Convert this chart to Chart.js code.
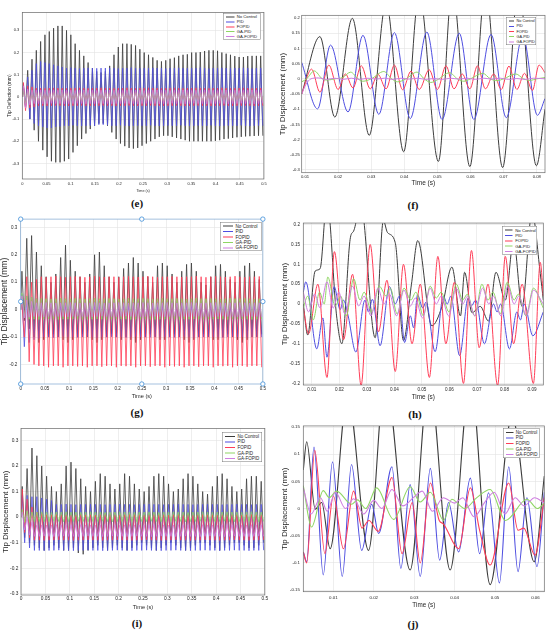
<!DOCTYPE html>
<html>
<head>
<meta charset="utf-8">
<script src="https://cdn.jsdelivr.net/npm/chart.js@4.4.1/dist/chart.umd.min.js"></script>
<style>
html, body { margin: 0; padding: 0; background: #fff; }
body { width: 550px; height: 632px; position: relative; overflow: hidden; font-family: "Liberation Sans", Arial, sans-serif; }
canvas { position: absolute; }
.tag { position: absolute; font-family: "Liberation Serif", "Times New Roman", serif; font-weight: bold; font-size: 11px; color: #111; transform: translate(-50%, -50%); white-space: nowrap; }
.leg { position: absolute; background: #fff; border: 1px solid #777; box-sizing: border-box; transform-origin: 0 0; transform: scale(0.5); }
.leg span { position: absolute; white-space: nowrap; color: #222; }
</style>
</head>
<body>
<script>
const seriesNames = ['No Control', 'PID', 'FOPID', 'GA-PID', 'GA-FOPID'];
const seriesColors = ['#3d3d3d', '#4f4fe0', '#ff3d57', '#8fd664', '#cf7fe0'];

// tick values
const timeTicksFull = [0, 0.05, 0.1, 0.15, 0.2, 0.25, 0.3, 0.35, 0.4, 0.45, 0.5];
const fTimeTicks = [0.01, 0.02, 0.03, 0.04, 0.05, 0.06, 0.07, 0.08];
const hTimeTicks = [0.01, 0.02, 0.03, 0.04, 0.05, 0.06, 0.07, 0.08, 0.09];
const jTimeTicks = [0.01, 0.02, 0.03, 0.04, 0.05, 0.06];
const eYTicks = [-0.3, -0.2, -0.1, 0, 0.1, 0.2, 0.3];
const fYTicks = [-0.3, -0.25, -0.2, -0.15, -0.1, -0.05, 0, 0.05, 0.1, 0.15, 0.2];
const gYTicks = [-0.2, -0.1, 0, 0.1, 0.2, 0.3];
const hYTicks = [-0.2, -0.15, -0.1, -0.05, 0, 0.05, 0.1, 0.15, 0.2];
const iYTicks = [-0.3, -0.2, -0.1, 0, 0.1, 0.2, 0.3];
const jYTicks = [-0.15, -0.1, -0.05, 0, 0.05, 0.1, 0.15];

// (e) per-cycle peaks / troughs, 0 - 0.5 s
const eBlackHi = [0.05,0.12,0.17,0.21,0.25,0.28,0.295,0.31,0.32,0.32, 0.3,0.28,0.24,0.21,0.185,0.155,0.13,0.115,0.11,0.115, 0.14,0.19,0.225,0.24,0.24,0.237,0.232,0.215,0.2,0.19, 0.178,0.165,0.16,0.165,0.172,0.177,0.185,0.19,0.192,0.2, 0.2,0.202,0.207,0.21,0.21,0.208,0.2,0.195,0.19,0.184, 0.18,0.18,0.184,0.185,0.185,0.185];
const eBlackLo = [-0.05,-0.1,-0.15,-0.2,-0.24,-0.27,-0.29,-0.295,-0.295,-0.29, -0.28,-0.25,-0.22,-0.19,-0.165,-0.145,-0.13,-0.12,-0.12,-0.13, -0.16,-0.19,-0.21,-0.222,-0.23,-0.233,-0.23,-0.22,-0.21,-0.2, -0.19,-0.18,-0.175,-0.175,-0.18,-0.185,-0.19,-0.195,-0.2,-0.2, -0.2,-0.2,-0.2,-0.2,-0.198,-0.195,-0.19,-0.188,-0.185,-0.182, -0.18,-0.178,-0.177,-0.176,-0.175,-0.175];
const eBlueHi = [0.06,0.09,0.12,0.15,0.16,0.155,0.15,0.145,0.14,0.135, 0.13,0.132,0.13,0.128,0.13,0.131,0.13,0.129,0.13,0.13, 0.131,0.13,0.128,0.13,0.13,0.132,0.13,0.129,0.13,0.13, 0.131,0.13,0.13,0.128,0.13,0.13,0.131,0.13,0.129,0.13, 0.13,0.132,0.13,0.128,0.13,0.13,0.131,0.13,0.129,0.13, 0.13,0.131,0.13,0.128,0.13,0.13];
const eBlueLo = [-0.05,-0.1,-0.12,-0.13,-0.135,-0.14,-0.14,-0.135,-0.133,-0.13, -0.13,-0.128,-0.13,-0.131,-0.13,-0.129,-0.13,-0.125,-0.125,-0.127, -0.13,-0.13,-0.128,-0.13,-0.131,-0.13,-0.129,-0.13,-0.13,-0.128, -0.13,-0.131,-0.13,-0.129,-0.13,-0.13,-0.128,-0.13,-0.131,-0.13, -0.129,-0.13,-0.13,-0.128,-0.13,-0.131,-0.13,-0.129,-0.13,-0.13, -0.128,-0.13,-0.131,-0.13,-0.129,-0.13];
const eRedHi = [0.065,0.05,0.045,0.04,0.04,0.039,0.04,0.041,0.04,0.04, 0.039,0.04,0.04,0.041,0.04,0.039,0.04,0.04,0.041,0.04, 0.04,0.039,0.04,0.04,0.041,0.04,0.039,0.04,0.04,0.041, 0.04,0.04,0.039,0.04,0.04,0.041,0.04,0.039,0.04,0.04, 0.041,0.04,0.04,0.039,0.04,0.04,0.041,0.04,0.039,0.04, 0.04,0.041,0.04,0.039,0.04,0.04];
const eRedLo = [-0.062,-0.05,-0.045,-0.04,-0.04,-0.041,-0.04,-0.039,-0.04,-0.04, -0.041,-0.04,-0.04,-0.039,-0.04,-0.041,-0.04,-0.04,-0.039,-0.04, -0.04,-0.041,-0.04,-0.04,-0.039,-0.04,-0.041,-0.04,-0.04,-0.039, -0.04,-0.04,-0.041,-0.04,-0.04,-0.039,-0.04,-0.041,-0.04,-0.04, -0.039,-0.04,-0.04,-0.041,-0.04,-0.04,-0.039,-0.04,-0.041,-0.04, -0.04,-0.039,-0.04,-0.041,-0.04,-0.04];
const eGreenHi = [0.03,0.025,0.02,0.02,0.021,0.02,0.019,0.02,0.02,0.021, 0.02,0.02,0.019,0.02,0.021,0.02,0.02,0.019,0.02,0.02, 0.021,0.02,0.02,0.019,0.02,0.02,0.021,0.02,0.019,0.02, 0.02,0.021,0.02,0.02,0.019,0.02,0.02,0.021,0.02,0.019, 0.02,0.02,0.021,0.02,0.02,0.019,0.02,0.021,0.02,0.02, 0.019,0.02,0.02,0.021,0.02,0.02];
const eGreenLo = [-0.03,-0.025,-0.02,-0.02,-0.021,-0.02,-0.019,-0.02,-0.02,-0.021, -0.02,-0.02,-0.019,-0.02,-0.021,-0.02,-0.02,-0.019,-0.02,-0.02, -0.021,-0.02,-0.02,-0.019,-0.02,-0.02,-0.021,-0.02,-0.019,-0.02, -0.02,-0.021,-0.02,-0.02,-0.019,-0.02,-0.02,-0.021,-0.02,-0.019, -0.02,-0.02,-0.021,-0.02,-0.02,-0.019,-0.02,-0.021,-0.02,-0.02, -0.019,-0.02,-0.02,-0.021,-0.02,-0.02];
const eMagHi = [0.05,0.035,0.03,0.03,0.031,0.03,0.029,0.03,0.03,0.031, 0.03,0.03,0.029,0.03,0.031,0.03,0.03,0.029,0.03,0.03, 0.031,0.03,0.03,0.029,0.03,0.03,0.031,0.03,0.029,0.03, 0.03,0.031,0.03,0.03,0.029,0.03,0.03,0.031,0.03,0.029, 0.03,0.03,0.031,0.03,0.03,0.029,0.03,0.031,0.03,0.03, 0.029,0.03,0.03,0.031,0.03,0.03];
const eMagLo = [-0.05,-0.035,-0.03,-0.03,-0.031,-0.03,-0.029,-0.03,-0.03,-0.031, -0.03,-0.03,-0.029,-0.03,-0.031,-0.03,-0.03,-0.029,-0.03,-0.03, -0.031,-0.03,-0.03,-0.029,-0.03,-0.03,-0.031,-0.03,-0.029,-0.03, -0.03,-0.031,-0.03,-0.03,-0.029,-0.03,-0.03,-0.031,-0.03,-0.029, -0.03,-0.03,-0.031,-0.03,-0.03,-0.029,-0.03,-0.031,-0.03,-0.03, -0.029,-0.03,-0.03,-0.031,-0.03,-0.03];

// (g) per-cycle peaks / troughs
const gBlackHi = [0.14,0.26,0.27,0.21,0.16,0.12,0.1,0.13,0.19,0.235, 0.18,0.14,0.12,0.1,0.13,0.2,0.21,0.16,0.12,0.1, 0.12,0.15,0.17,0.19,0.17,0.14,0.12,0.1,0.16,0.17, 0.16,0.13,0.1,0.14,0.165,0.17,0.14,0.1,0.09,0.12, 0.16,0.165,0.14,0.11,0.1,0.14,0.16,0.17,0.14,0.11];
const gBlackLo = [-0.04,-0.07,-0.1,-0.12,-0.11,-0.1,-0.09,-0.1,-0.11,-0.12, -0.11,-0.1,-0.09,-0.1,-0.11,-0.12,-0.11,-0.1,-0.09,-0.1, -0.11,-0.1,-0.11,-0.12,-0.11,-0.1,-0.09,-0.1,-0.11,-0.11, -0.1,-0.09,-0.1,-0.11,-0.12,-0.11,-0.1,-0.09,-0.1,-0.11, -0.11,-0.1,-0.09,-0.1,-0.11,-0.12,-0.11,-0.1,-0.1,-0.09];
const gBlueHi = [0.055,0.05,0.045,0.04,0.035,0.03,0.031,0.03,0.029,0.03, 0.03,0.031,0.03,0.028,0.03,0.03,0.031,0.03,0.029,0.03, 0.03,0.032,0.03,0.028,0.03,0.03,0.031,0.03,0.029,0.03, 0.03,0.031,0.03,0.028,0.03,0.03,0.031,0.03,0.029,0.03, 0.03,0.032,0.03,0.028,0.03,0.03,0.031,0.03,0.029,0.03];
const gBlueLo = [-0.135,-0.12,-0.11,-0.105,-0.1,-0.1,-0.102,-0.1,-0.098,-0.1, -0.1,-0.101,-0.1,-0.098,-0.1,-0.102,-0.1,-0.1,-0.099,-0.1, -0.1,-0.102,-0.1,-0.098,-0.1,-0.1,-0.101,-0.1,-0.099,-0.1, -0.1,-0.101,-0.1,-0.098,-0.1,-0.102,-0.1,-0.1,-0.099,-0.1, -0.1,-0.102,-0.1,-0.098,-0.1,-0.1,-0.101,-0.1,-0.099,-0.1];
const gRedHi = [0.02,0.12,0.1,0.11,0.12,0.118,0.12,0.122,0.12,0.118, 0.12,0.121,0.12,0.118,0.12,0.122,0.12,0.119,0.12,0.12, 0.118,0.12,0.121,0.12,0.119,0.12,0.122,0.12,0.118,0.12, 0.12,0.121,0.12,0.119,0.12,0.12,0.122,0.12,0.118,0.12, 0.121,0.12,0.119,0.12,0.122,0.12,0.118,0.12,0.12,0.121];
const gRedLo = [-0.1,-0.19,-0.2,-0.205,-0.205,-0.21,-0.205,-0.205,-0.21,-0.205, -0.205,-0.207,-0.205,-0.21,-0.205,-0.205,-0.208,-0.205,-0.205,-0.21, -0.205,-0.206,-0.205,-0.21,-0.205,-0.205,-0.208,-0.205,-0.205,-0.21, -0.205,-0.207,-0.205,-0.21,-0.205,-0.205,-0.208,-0.205,-0.205,-0.21, -0.205,-0.206,-0.205,-0.21,-0.205,-0.205,-0.208,-0.205,-0.205,-0.21];
const gGreenHi = [0.06,0.05,0.045,0.04,0.041,0.04,0.039,0.04,0.042,0.04, 0.04,0.041,0.04,0.039,0.04,0.042,0.04,0.04,0.041,0.04, 0.039,0.04,0.042,0.04,0.04,0.041,0.04,0.039,0.04,0.042, 0.04,0.04,0.041,0.04,0.039,0.04,0.042,0.04,0.04,0.041, 0.04,0.039,0.04,0.042,0.04,0.04,0.041,0.04,0.039,0.04];
const gGreenLo = [-0.03,-0.035,-0.035,-0.036,-0.035,-0.034,-0.035,-0.036,-0.035,-0.035, -0.034,-0.035,-0.036,-0.035,-0.035,-0.034,-0.035,-0.036,-0.035,-0.035, -0.034,-0.035,-0.036,-0.035,-0.035,-0.034,-0.035,-0.036,-0.035,-0.035, -0.034,-0.035,-0.036,-0.035,-0.035,-0.034,-0.035,-0.036,-0.035,-0.035, -0.034,-0.035,-0.036,-0.035,-0.035,-0.034,-0.035,-0.036,-0.035,-0.035];
const gPurpHi = [0.05,0.035,0.03,0.025,0.025,0.026,0.025,0.024,0.025,0.025, 0.026,0.025,0.024,0.025,0.025,0.026,0.025,0.024,0.025,0.025, 0.026,0.025,0.024,0.025,0.025,0.026,0.025,0.024,0.025,0.025, 0.026,0.025,0.024,0.025,0.025,0.026,0.025,0.024,0.025,0.025, 0.026,0.025,0.024,0.025,0.025,0.026,0.025,0.024,0.025,0.025];
const gPurpLo = [-0.03,-0.028,-0.025,-0.025,-0.026,-0.025,-0.024,-0.025,-0.025,-0.026, -0.025,-0.024,-0.025,-0.025,-0.026,-0.025,-0.024,-0.025,-0.025,-0.026, -0.025,-0.024,-0.025,-0.025,-0.026,-0.025,-0.024,-0.025,-0.025,-0.026, -0.025,-0.024,-0.025,-0.025,-0.026,-0.025,-0.024,-0.025,-0.025,-0.026, -0.025,-0.024,-0.025,-0.025,-0.026,-0.025,-0.024,-0.025,-0.025,-0.026];

// (i) per-cycle peaks / troughs
const iBlackHi = [0.12,0.19,0.27,0.24,0.2,0.16,0.12,0.1,0.13,0.2, 0.215,0.19,0.15,0.12,0.1,0.14,0.17,0.16,0.13,0.11, 0.13,0.17,0.16,0.13,0.11,0.1,0.12,0.16,0.17,0.16, 0.13,0.1,0.11,0.15,0.17,0.16,0.13,0.1,0.09,0.12, 0.16,0.17,0.15,0.12,0.1,0.11,0.15,0.16,0.16,0.14];
const iBlackLo = [-0.08,-0.1,-0.11,-0.12,-0.13,-0.12,-0.11,-0.12,-0.13,-0.13, -0.12,-0.14,-0.145,-0.13,-0.12,-0.11,-0.12,-0.13,-0.12,-0.11, -0.12,-0.13,-0.12,-0.11,-0.1,-0.11,-0.12,-0.13,-0.12,-0.11, -0.1,-0.11,-0.12,-0.13,-0.12,-0.11,-0.1,-0.1,-0.11,-0.12, -0.13,-0.12,-0.11,-0.1,-0.1,-0.11,-0.12,-0.12,-0.11,-0.1];
const iBlueHi = [0.085,0.085,0.08,0.08,0.075,0.07,0.065,0.05,0.05,0.051, 0.05,0.049,0.05,0.05,0.051,0.05,0.05,0.049,0.05,0.05, 0.051,0.05,0.05,0.049,0.05,0.05,0.051,0.05,0.05,0.049, 0.05,0.05,0.051,0.05,0.05,0.049,0.05,0.05,0.051,0.05, 0.05,0.049,0.05,0.05,0.051,0.05,0.05,0.049,0.05,0.05];
const iBlueLo = [-0.1,-0.12,-0.13,-0.13,-0.131,-0.13,-0.13,-0.129,-0.13,-0.13, -0.131,-0.13,-0.13,-0.129,-0.13,-0.13,-0.131,-0.13,-0.13,-0.129, -0.13,-0.13,-0.131,-0.13,-0.13,-0.129,-0.13,-0.13,-0.131,-0.13, -0.13,-0.129,-0.13,-0.13,-0.131,-0.13,-0.13,-0.129,-0.13,-0.13, -0.131,-0.13,-0.13,-0.129,-0.13,-0.13,-0.131,-0.13,-0.13,-0.129];
const iRedHi = [0.11,0.07,0.04,0.02,0.015,0.01,0.01,0.011,0.01,0.01, 0.009,0.01,0.011,0.01,0.01,0.009,0.01,0.011,0.01,0.01, 0.009,0.01,0.011,0.01,0.01,0.009,0.01,0.011,0.01,0.01, 0.009,0.01,0.011,0.01,0.01,0.009,0.01,0.011,0.01,0.01, 0.009,0.01,0.011,0.01,0.01,0.009,0.01,0.011,0.01,0.01];
const iRedLo = [-0.06,-0.08,-0.09,-0.09,-0.091,-0.09,-0.09,-0.089,-0.09,-0.09, -0.091,-0.09,-0.09,-0.089,-0.09,-0.09,-0.091,-0.09,-0.09,-0.089, -0.09,-0.09,-0.091,-0.09,-0.09,-0.089,-0.09,-0.09,-0.091,-0.09, -0.09,-0.089,-0.09,-0.09,-0.091,-0.09,-0.09,-0.089,-0.09,-0.09, -0.091,-0.09,-0.09,-0.089,-0.09,-0.09,-0.091,-0.09,-0.09,-0.089];
const iGreenHi = [0.03,0.025,0.02,0.02,0.021,0.02,0.019,0.02,0.02,0.021, 0.02,0.02,0.019,0.02,0.021,0.02,0.02,0.019,0.02,0.02, 0.021,0.02,0.02,0.019,0.02,0.02,0.021,0.02,0.019,0.02, 0.02,0.021,0.02,0.02,0.019,0.02,0.02,0.021,0.02,0.019, 0.02,0.02,0.021,0.02,0.02,0.019,0.02,0.021,0.02,0.02];
const iGreenLo = [-0.02,-0.02,-0.018,-0.017,-0.018,-0.017,-0.016,-0.017,-0.018,-0.017, -0.017,-0.016,-0.017,-0.018,-0.017,-0.017,-0.016,-0.017,-0.018,-0.017, -0.017,-0.016,-0.017,-0.018,-0.017,-0.017,-0.016,-0.017,-0.018,-0.017, -0.017,-0.016,-0.017,-0.018,-0.017,-0.017,-0.016,-0.017,-0.018,-0.017, -0.017,-0.016,-0.017,-0.018,-0.017,-0.017,-0.016,-0.017,-0.018,-0.017];
const iPurpHi = [0.02,0.0,-0.02,-0.03,-0.03,-0.031,-0.03,-0.029,-0.03,-0.03, -0.031,-0.03,-0.029,-0.03,-0.03,-0.031,-0.03,-0.029,-0.03,-0.03, -0.031,-0.03,-0.029,-0.03,-0.03,-0.031,-0.03,-0.029,-0.03,-0.03, -0.031,-0.03,-0.029,-0.03,-0.03,-0.031,-0.03,-0.029,-0.03,-0.03, -0.031,-0.03,-0.029,-0.03,-0.03,-0.031,-0.03,-0.029,-0.03,-0.03];
const iPurpLo = [-0.05,-0.07,-0.075,-0.075,-0.074,-0.075,-0.076,-0.075,-0.074,-0.075, -0.075,-0.076,-0.075,-0.074,-0.075,-0.075,-0.076,-0.075,-0.074,-0.075, -0.075,-0.076,-0.075,-0.074,-0.075,-0.075,-0.076,-0.075,-0.074,-0.075, -0.075,-0.076,-0.075,-0.074,-0.075,-0.075,-0.076,-0.075,-0.074,-0.075, -0.075,-0.076,-0.075,-0.074,-0.075,-0.075,-0.076,-0.075,-0.074,-0.075];

// (f) zoomed traces, [time, value] at turning points
const fBlack = [[0.009,-0.05],[0.0145,0.139],[0.019,-0.126],[0.0243,0.199],[0.0294,-0.186],[0.0345,0.25],[0.0398,-0.24],[0.0445,0.28],[0.0503,-0.272],[0.0545,0.3],[0.0598,-0.289],[0.0645,0.3],[0.0697,-0.292],[0.0745,0.3],[0.0799,-0.286],[0.0825,-0.1]];
const fBlue = [[0.009,0.054],[0.0138,-0.099],[0.0177,0.111],[0.023,-0.109],[0.0275,0.143],[0.0323,-0.117],[0.037,0.152],[0.0418,-0.131],[0.0468,0.154],[0.0514,-0.134],[0.0566,0.15],[0.061,-0.134],[0.0662,0.146],[0.0708,-0.128],[0.0758,0.142],[0.0802,-0.12],[0.0825,-0.065]];
const fRed = [[0.009,-0.05],[0.012,0.032],[0.0145,-0.044],[0.0172,0.045],[0.02,-0.035],[0.0222,0.016],[0.0245,-0.03],[0.027,0.043],[0.0297,-0.033],[0.032,0.015],[0.0345,-0.033],[0.037,0.045],[0.0395,-0.036],[0.042,0.025],[0.0445,-0.035],[0.0475,0.03],[0.05,-0.035],[0.0526,0.043],[0.055,-0.033],[0.0575,0.016],[0.0598,-0.033],[0.0621,0.043],[0.0645,-0.033],[0.067,0.016],[0.0693,-0.035],[0.0716,0.042],[0.074,-0.035],[0.0763,0.018],[0.0787,-0.038],[0.0807,0.045],[0.0825,0.02]];
const fGreen = [[0.009,-0.01],[0.0105,0],[0.0128,0.026],[0.0152,0],[0.0168,-0.004],[0.019,0],[0.0213,0.004],[0.0238,0.022],[0.026,0],[0.0275,-0.008],[0.03,0],[0.0338,0.024],[0.0362,0],[0.038,-0.01],[0.0405,0],[0.0438,0.022],[0.046,0],[0.048,-0.012],[0.05,-0.003],[0.0537,0.02],[0.056,0],[0.058,-0.008],[0.06,0],[0.0637,0.018],[0.066,0],[0.068,-0.006],[0.07,0],[0.0737,0.016],[0.076,0],[0.078,-0.005],[0.08,0],[0.0825,0.004]];
const fPurple = [[0.009,-0.05],[0.0102,-0.02],[0.0118,0],[0.014,0.003],[0.0165,-0.002],[0.019,0.002],[0.0215,-0.002],[0.024,0.002],[0.0265,-0.002],[0.029,0.002],[0.0315,-0.001],[0.034,0.002],[0.0365,-0.002],[0.039,0.002],[0.0415,-0.001],[0.044,0.002],[0.0465,-0.002],[0.049,0.001],[0.0515,-0.002],[0.054,0.002],[0.0565,-0.001],[0.059,0.002],[0.0615,-0.002],[0.064,0.002],[0.0665,-0.001],[0.069,0.002],[0.0715,-0.002],[0.074,0.001],[0.0765,-0.002],[0.079,0.002],[0.0825,0]];

// (h)
const hBlack = [[0.0069,0.0],[0.0085,-0.078],[0.0112,0.083],[0.013,0.089],[0.0155,0.26],[0.019,-0.03],[0.0209,-0.1],[0.024,0.167],[0.0252,0.184],[0.0278,0.25],[0.033,-0.085],[0.036,0.21],[0.0375,0.18],[0.0403,0.155],[0.0433,-0.092],[0.0462,0.05],[0.0485,0.16],[0.0536,-0.055],[0.0573,-0.006],[0.0609,0.093],[0.064,-0.03],[0.0655,0.08],[0.0682,-0.022],[0.0712,-0.006],[0.0742,-0.043],[0.0769,0.08],[0.0803,0.01],[0.0833,0.16],[0.0864,-0.006],[0.09,0.23],[0.093,0.077],[0.0941,0.01]];
const hBlue = [[0.0069,0.03],[0.0078,0.056],[0.0118,-0.113],[0.014,-0.035],[0.0155,-0.134],[0.0181,0.044],[0.0203,-0.014],[0.0215,0.01],[0.0232,-0.03],[0.026,-0.121],[0.0293,0.01],[0.0306,-0.02],[0.032,0.012],[0.0348,-0.105],[0.0382,0.044],[0.0403,0.0],[0.0418,0.02],[0.0437,-0.097],[0.0458,-0.03],[0.047,-0.06],[0.0484,0.023],[0.0503,-0.01],[0.0515,0.005],[0.0548,-0.12],[0.0578,0.02],[0.0592,0.0],[0.0605,0.02],[0.0637,-0.13],[0.0668,0.015],[0.068,-0.005],[0.0695,0.01],[0.0727,-0.1],[0.076,0.0],[0.0773,-0.02],[0.0786,0.0],[0.0818,-0.113],[0.0845,-0.02],[0.0858,-0.04],[0.0872,0.0],[0.0903,-0.08],[0.0941,-0.02]];
const hRed = [[0.0069,-0.01],[0.0088,-0.075],[0.0122,0.05],[0.0155,-0.185],[0.0182,0.132],[0.0215,-0.09],[0.0248,0.075],[0.0279,-0.205],[0.0312,0.15],[0.0342,-0.07],[0.0373,0.06],[0.0403,-0.17],[0.0433,0.1],[0.0464,-0.1],[0.0494,0.05],[0.0527,-0.185],[0.0558,0.12],[0.0587,-0.1],[0.0618,0.055],[0.0651,-0.2],[0.068,0.135],[0.0708,-0.11],[0.074,0.05],[0.0775,-0.205],[0.0803,0.12],[0.0833,-0.1],[0.0864,0.05],[0.0905,-0.2],[0.093,0.105],[0.0941,0.02]];
const hGreen = [[0.0069,-0.01],[0.0085,0.02],[0.0105,-0.04],[0.0128,0.03],[0.0145,0.0],[0.0158,0.068],[0.0185,-0.005],[0.0205,0.02],[0.0225,-0.03],[0.0252,0.064],[0.0275,0.01],[0.029,0.03],[0.0318,-0.02],[0.0345,0.045],[0.037,0.02],[0.0385,0.04],[0.041,-0.025],[0.0435,0.04],[0.046,0.01],[0.0478,0.03],[0.0505,-0.03],[0.053,0.045],[0.0552,0.015],[0.057,0.03],[0.0598,-0.02],[0.0625,0.05],[0.0648,0.01],[0.0665,0.025],[0.0692,-0.03],[0.0718,0.05],[0.074,0.01],[0.0758,0.03],[0.0785,-0.025],[0.081,0.055],[0.0835,0.01],[0.085,0.025],[0.0878,-0.03],[0.0905,0.04],[0.0941,-0.01]];
const hPurple = [[0.0069,0.03],[0.0088,-0.02],[0.011,0.025],[0.013,-0.01],[0.0155,0.056],[0.0178,-0.01],[0.0198,0.03],[0.022,-0.025],[0.0248,0.045],[0.027,-0.005],[0.029,0.02],[0.0315,-0.03],[0.034,0.04],[0.0362,0.0],[0.0382,0.025],[0.0408,-0.03],[0.0435,0.035],[0.0458,-0.005],[0.0476,0.015],[0.0502,-0.035],[0.053,0.04],[0.0552,0.0],[0.057,0.02],[0.0597,-0.03],[0.0625,0.04],[0.0648,0.0],[0.0666,0.02],[0.0692,-0.03],[0.072,0.04],[0.0743,0.0],[0.076,0.02],[0.0787,-0.03],[0.0812,0.045],[0.0835,0.0],[0.0852,0.02],[0.088,-0.03],[0.0905,0.035],[0.0941,0.0]];

// (j)
const jBlack = [[0.00256,0.071],[0.0034,0.123],[0.0055,-0.001],[0.0071,0.011],[0.0092,-0.074],[0.0135,0.21],[0.0187,-0.077],[0.0228,0.24],[0.029,-0.113],[0.0337,0.24],[0.0389,-0.113],[0.0439,0.24],[0.0488,-0.14],[0.0542,0.17],[0.0597,-0.098],[0.0622,0.06]];
const jBlue = [[0.00256,-0.08],[0.0034,-0.098],[0.0052,0.113],[0.0075,-0.122],[0.0098,0.086],[0.0122,-0.125],[0.0145,0.081],[0.017,-0.077],[0.0195,0.008],[0.0212,-0.046],[0.0245,0.077],[0.0267,-0.11],[0.029,0.044],[0.0315,-0.125],[0.034,0.074],[0.0363,-0.095],[0.0385,0.011],[0.041,-0.08],[0.0439,0.056],[0.0462,-0.083],[0.0484,0.029],[0.0511,-0.137],[0.0534,0.077],[0.0557,-0.116],[0.0579,0.02],[0.0604,-0.107],[0.0622,0.03]];
const jRed = [[0.00256,-0.08],[0.0034,-0.1],[0.0054,0.107],[0.0079,-0.083],[0.01,0.023],[0.0125,-0.074],[0.015,0.032],[0.0171,-0.036],[0.0188,-0.022],[0.0211,-0.042],[0.0245,0.057],[0.027,-0.083],[0.0295,0.011],[0.0315,-0.1],[0.034,0.047],[0.0362,-0.022],[0.0372,-0.028],[0.041,-0.074],[0.0439,0.038],[0.0462,-0.04],[0.0488,-0.104],[0.0534,0.047],[0.0557,-0.04],[0.0571,-0.036],[0.0599,-0.086],[0.0622,0.02]];
const jGreen = [[0.00256,0.042],[0.0046,-0.034],[0.0075,0.033],[0.009,0.02],[0.0108,0.032],[0.0145,0.008],[0.016,0.016],[0.018,0.0],[0.0207,0.038],[0.0249,-0.02],[0.029,0.04],[0.0315,0.012],[0.034,0.03],[0.0373,-0.022],[0.0393,0.017],[0.0425,0.0],[0.0455,0.02],[0.0488,0.035],[0.0526,-0.022],[0.0579,0.017],[0.0605,0.0],[0.0622,0.01]];
const jPurple = [[0.00256,0.038],[0.0045,-0.01],[0.0068,0.02],[0.0085,-0.005],[0.0105,0.03],[0.013,0.0],[0.015,0.018],[0.0175,-0.01],[0.02,0.015],[0.022,0.0],[0.0245,0.035],[0.0272,0.005],[0.0298,0.02],[0.032,0.032],[0.0345,-0.005],[0.0372,0.02],[0.04,0.01],[0.042,0.02],[0.0448,-0.015],[0.0475,0.012],[0.0498,0.03],[0.0525,-0.01],[0.055,0.02],[0.0572,0.005],[0.0598,0.02],[0.0622,0.01]];

// one turning point up and one down per cycle, spread over 0..0.5 s
function zigzag(hi, lo) {
    const step = 0.5 / hi.length;
    const pts = [{ x: 0, y: 0 }];
    hi.forEach((h, k) => {
        pts.push({ x: (k + 0.25) * step, y: h });
        pts.push({ x: (k + 0.75) * step, y: lo[k] });
    });
    return pts;
}
const pairs = arr => arr.map(([x, y]) => ({ x, y }));

const panels = [
    { tag: '(e)', tagAt: [137, 203], box: [22.3, 10, 265, 179], yTitle: 'Tip Deflection (mm)',
      xLim: [0, 0.5], yLim: [-0.37, 0.381], xTicks: timeTicksFull, yTicks: eYTicks,
      fs: { tick: 4, x: 3.7, y: 4.9 }, yTitleX: 10, xTitleDy: 12, xTickDy: 4.7, yTickPad: 3,
      legend: [222.7, 12.7, 37.3, 26.6, 4.2, 8.3], lw: 0.8, smooth: false,
      series: [zigzag(eBlackHi, eBlackLo), zigzag(eBlueHi, eBlueLo), zigzag(eRedHi, eRedLo), zigzag(eGreenHi, eGreenLo), zigzag(eMagHi, eMagLo)] },
    { tag: '(f)', tagAt: [413, 205], box: [301.7, 14, 545, 172.7], yTitle: 'Tip Displacement (mm)',
      xLim: [0.009, 0.0825], yLim: [-0.309, 0.209], xTicks: fTimeTicks, yTicks: fYTicks,
      fs: { tick: 4.2, x: 6.5, y: 8 }, yTitleX: 282.3, xTitleDy: 10.6, xTickDy: 4.6, yTickPad: 1.8,
      legend: [506, 17, 30, 28, 3.8, 5], lw: 1, smooth: true,
      series: [pairs(fBlack), pairs(fBlue), pairs(fRed), pairs(fGreen), pairs(fPurple)] },
    { tag: '(g)', tagAt: [137, 412], box: [20.7, 216.7, 263.3, 384], yTitle: 'Tip Displacement (mm)',
      xLim: [0, 0.5], yLim: [-0.271, 0.33], xTicks: timeTicksFull, yTicks: gYTicks,
      fs: { tick: 4.5, x: 5.6, y: 8.5 }, yTitleX: 5, xTitleDy: 12.7, xTickDy: 4.7, yTickPad: 3.4,
      legend: [220, 221.7, 41.7, 29, 4.6, 10], lw: 0.8, smooth: false, handles: true,
      series: [zigzag(gBlackHi, gBlackLo), zigzag(gBlueHi, gBlueLo), zigzag(gRedHi, gRedLo), zigzag(gGreenHi, gGreenLo), zigzag(gPurpHi, gPurpLo)] },
    { tag: '(h)', tagAt: [415, 414], box: [303.3, 220, 543.3, 385], yTitle: 'Tip Displacement (mm)',
      xLim: [0.0069, 0.0941], yLim: [-0.204, 0.204], xTicks: hTimeTicks, yTicks: hYTicks,
      fs: { tick: 4.6, x: 6.4, y: 8 }, yTitleX: 285, xTitleDy: 12.7, xTickDy: 4.3, yTickPad: 3.3,
      legend: [501.7, 225.7, 35, 28.6, 4.3, 7.7], lw: 1, smooth: true,
      series: [pairs(hBlack), pairs(hBlue), pairs(hRed), pairs(hGreen), pairs(hPurple)] },
    { tag: '(i)', tagAt: [137, 623], box: [21, 426, 265, 595], yTitle: 'Tip Displacement (mm)',
      xLim: [0, 0.5], yLim: [-0.304, 0.346], xTicks: timeTicksFull, yTicks: iYTicks,
      fs: { tick: 4.8, x: 5.6, y: 8 }, yTitleX: 6, xTitleDy: 12.3, xTickDy: 3.7, yTickPad: 2.7,
      legend: [221.7, 431.7, 40, 30, 4.5, 10], lw: 0.8, smooth: false,
      series: [zigzag(iBlackHi, iBlackLo), zigzag(iBlueHi, iBlueLo), zigzag(iRedHi, iRedLo), zigzag(iGreenHi, iGreenLo), zigzag(iPurpHi, iPurpLo)] },
    { tag: '(j)', tagAt: [413, 624], box: [303.3, 423.3, 544.3, 591.7], yTitle: 'Tip Displacement (mm)',
      xLim: [0.00256, 0.0622], yLim: [-0.153, 0.152], xTicks: jTimeTicks, yTicks: jYTicks,
      fs: { tick: 4.4, x: 6.3, y: 8 }, yTitleX: 285, xTitleDy: 14, xTickDy: 6, yTickPad: 3.3,
      legend: [503.3, 428.3, 36.7, 30, 4.5, 7.3], lw: 1.1, smooth: true,
      series: [pairs(jBlack), pairs(jBlue), pairs(jRed), pairs(jGreen), pairs(jPurple)] }
];

// MATLAB style axes box (+ the selection handles shown on panel g)
const boxPlugin = {
    id: 'box',
    afterDraw(chart, args, opts) {
        const { ctx, chartArea: a } = chart;
        ctx.save();
        ctx.strokeStyle = opts.color;
        ctx.lineWidth = 0.7;
        ctx.strokeRect(a.left, a.top, a.right - a.left, a.bottom - a.top);
        if (opts.handles) {
            const xs = [a.left, (a.left + a.right) / 2, a.right];
            const ys = [a.top, (a.top + a.bottom) / 2, a.bottom];
            ctx.strokeStyle = '#3d8ed8';
            ctx.fillStyle = '#fff';
            ctx.lineWidth = 0.8;
            xs.forEach((x, i) => ys.forEach((y, j) => {
                if (i === 1 && j === 1) return;
                ctx.beginPath();
                ctx.arc(x, y, 2.2, 0, Math.PI * 2);
                ctx.fill();
                ctx.stroke();
            }));
        }
        ctx.restore();
    }
};

const fmt = v => String(+v.toFixed(3));
const font = size => ({ family: '"Liberation Sans", Arial, sans-serif', size });

function addLegend(L) {
    const box = document.createElement('div');
    box.className = 'leg';
    box.style.left = L[0] + 'px';
    box.style.top = L[1] + 'px';
    box.style.width = L[2] * 2 + 'px';
    box.style.height = L[3] * 2 + 'px';
    const rowH = (L[3] * 2 - 4) / seriesNames.length;
    seriesNames.forEach((name, i) => {
        const line = document.createElement('span');
        line.style.cssText = `left:5px;top:${2 + i * rowH + rowH / 2 - 1}px;width:${L[5] * 2}px;border-top:2px solid ${seriesColors[i]}`;
        const txt = document.createElement('span');
        txt.textContent = name;
        txt.style.cssText = `left:${10 + L[5] * 2}px;top:${2 + i * rowH}px;line-height:${rowH}px;font-size:${L[4] * 2}px`;
        box.append(line, txt);
    });
    document.body.append(box);
}

function drawPanel(p) {
    const [L, T, R, B] = p.box;
    const xH = p.xTitleDy + 0.6 * p.fs.x;
    const cl = Math.round(p.yTitleX - 0.6 * p.fs.y);
    const ct = Math.floor(T - 3);
    const cw = Math.ceil(R + 4 - cl);
    const ch = Math.ceil(B + xH - ct);
    const cv = document.createElement('canvas');
    cv.width = cw; cv.height = ch;
    cv.style.left = cl + 'px'; cv.style.top = ct + 'px';
    cv.style.width = cw + 'px'; cv.style.height = ch + 'px';
    document.body.append(cv);

    const datasets = p.series.map((pts, i) => ({
        label: seriesNames[i],
        data: pts,
        borderColor: seriesColors[i],
        borderWidth: p.lw,
        pointRadius: 0,
        fill: false,
        tension: 0,
        cubicInterpolationMode: p.smooth ? 'monotone' : 'default',
        order: seriesNames.length - i
    }));

    new Chart(cv, {
        type: 'line',
        data: { datasets },
        options: {
            responsive: false,
            animation: false,
            events: [],
            layout: { autoPadding: false, padding: { left: 0, top: T - ct, right: cl + cw - R, bottom: ch - (B - ct) - xH } },
            plugins: { legend: { display: false }, tooltip: { enabled: false }, box: { color: p.handles ? '#7fa7d0' : '#6a6a6a', handles: !!p.handles } },
            scales: {
                x: {
                    type: 'linear', min: p.xLim[0], max: p.xLim[1],
                    afterFit: s => { s.height = xH; },
                    afterBuildTicks: s => { s.ticks = p.xTicks.map(v => ({ value: v })); },
                    ticks: { autoSkip: false, maxRotation: 0, padding: p.xTickDy - 0.6 * p.fs.tick, font: font(p.fs.tick), color: '#262626', callback: fmt },
                    grid: { color: '#e3e3e3', lineWidth: 0.6, drawTicks: false },
                    border: { display: false },
                    title: { display: true, text: 'Time (s)', font: font(p.fs.x), color: '#262626', padding: 0 }
                },
                y: {
                    type: 'linear', min: p.yLim[0], max: p.yLim[1],
                    afterFit: s => { s.width = L - cl; },
                    afterBuildTicks: s => { s.ticks = p.yTicks.map(v => ({ value: v })); },
                    ticks: { autoSkip: false, padding: p.yTickPad, font: font(p.fs.tick), color: '#262626', callback: fmt },
                    grid: { color: '#e3e3e3', lineWidth: 0.6, drawTicks: false },
                    border: { display: false },
                    title: { display: true, text: p.yTitle, font: font(p.fs.y), color: '#262626', padding: 0 }
                }
            }
        },
        plugins: [boxPlugin]
    });

    addLegend(p.legend);
    const tag = document.createElement('div');
    tag.className = 'tag';
    tag.textContent = p.tag;
    tag.style.left = p.tagAt[0] + 'px';
    tag.style.top = p.tagAt[1] + 'px';
    document.body.append(tag);
}

panels.forEach(drawPanel);
</script>
</body>
</html>
